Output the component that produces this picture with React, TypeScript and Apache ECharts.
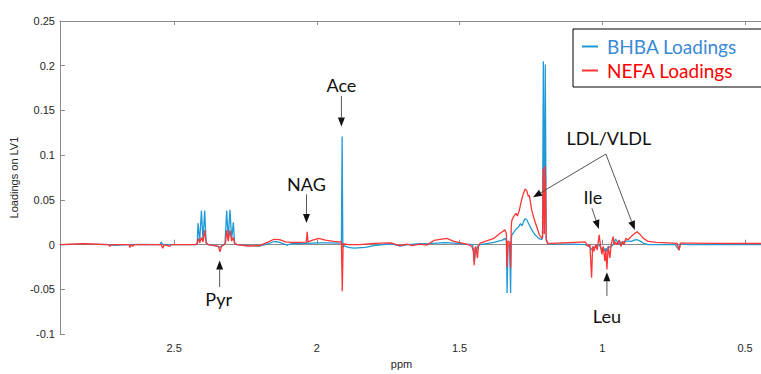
import React, { useEffect, useRef } from "react";
import * as echarts from "echarts";

// ---- data (ppm, loading) ----
const BHBA_LOADINGS: [number, number][] = [
  [2.9, 0.0], [2.8, 0.0005], [2.73, 0.0], [2.71, -0.0008], [2.66, 0.0], [2.62, 0.0004],
  [2.55, 0.0], [2.545, 0.003], [2.54, 0.0], [2.46, 0.0], [2.425, 0.0], [2.419, 0.002],
  [2.4164, 0.024], [2.4105, 0.004], [2.4045, 0.038], [2.399, 0.005], [2.393, 0.038],
  [2.388, 0.002], [2.38, 0.0], [2.355, -0.001], [2.3395, -0.003], [2.33, -0.0005],
  [2.322, 0.001], [2.316, 0.038], [2.3105, 0.006], [2.3045, 0.039], [2.2985, 0.006],
  [2.2927, 0.025], [2.288, 0.002], [2.28, 0.0], [2.24, -0.001], [2.2, -0.0015],
  [2.17, 0.001], [2.15, 0.0035], [2.13, 0.0025], [2.105, -0.0005], [2.09, 0.001],
  [2.06, 0.0012], [2.036, 0.0015], [2.034, 0.003], [2.031, 0.0015], [2.0, 0.002],
  [1.96, 0.002], [1.925, 0.0018], [1.914, 0.002], [1.9115, 0.121], [1.909, -0.003],
  [1.905, -0.001], [1.89, -0.003], [1.87, -0.004], [1.83, -0.003], [1.8, -0.001],
  [1.74, 0.001], [1.71, -0.0015], [1.68, 0.0], [1.64, 0.001], [1.6, 0.0015],
  [1.55, 0.0022], [1.52, 0.0018], [1.475, 0.0005], [1.455, 0.0], [1.451, -0.006],
  [1.4475, -0.019], [1.444, -0.004], [1.44, -0.006], [1.435, -0.001], [1.428, 0.0],
  [1.38, 0.0025], [1.35, 0.005], [1.34, 0.007], [1.336, 0.004], [1.3336, -0.054],
  [1.3305, -0.002], [1.3245, -0.001], [1.3213, -0.054], [1.319, 0.006], [1.3171, 0.0107],
  [1.3042, 0.0165], [1.2927, 0.02], [1.2867, 0.0235], [1.2808, 0.021], [1.2752, 0.0266],
  [1.2706, 0.029], [1.2648, 0.0278], [1.2557, 0.022], [1.2473, 0.0165], [1.2357, 0.011],
  [1.2241, 0.0073], [1.2122, 0.0055], [1.2095, 0.008], [1.2066, 0.205], [1.2031, 0.012],
  [1.1997, 0.2015], [1.1965, 0.006], [1.192, 0.0015], [1.18, 0.0008], [1.1, 0.0005],
  [1.06, 0.0], [1.045, -0.002], [1.0374, -0.006], [1.032, -0.002], [1.0294, -0.004],
  [1.02, -0.001], [1.0108, 0.0], [1.0014, -0.006], [0.996, -0.003], [0.9909, -0.0075],
  [0.987, -0.004], [0.9839, -0.008], [0.979, -0.002], [0.9734, -0.003], [0.9619, 0.0],
  [0.9535, 0.0062], [0.9479, 0.0036], [0.9409, 0.0], [0.935, 0.003], [0.929, 0.0003],
  [0.9234, 0.0035], [0.9175, 0.004], [0.9094, 0.004], [0.8976, 0.0037], [0.886, 0.0053],
  [0.878, 0.0055], [0.8685, 0.0042], [0.857, 0.0018], [0.8395, 0.0], [0.81, 0.0],
  [0.745, 0.0], [0.7311, -0.006], [0.7262, 0.001], [0.7, 0.0], [0.6, 0.0], [0.444, 0.0],
];

const NEFA_LOADINGS: [number, number][] = [
  [2.9, 0.0], [2.82, 0.001], [2.73, 0.0], [2.725, -0.002], [2.72, 0.0], [2.658, 0.0],
  [2.655, -0.003], [2.65, 0.0], [2.645, -0.002], [2.64, 0.0], [2.545, 0.0], [2.54, -0.004],
  [2.535, 0.0], [2.515, -0.002], [2.51, 0.0], [2.425, 0.0], [2.419, 0.001], [2.4164, 0.007],
  [2.4105, 0.002], [2.4045, 0.008], [2.399, 0.003], [2.393, 0.016], [2.388, 0.002],
  [2.38, 0.0], [2.36, -0.001], [2.345, -0.002], [2.3395, -0.008], [2.334, -0.002],
  [2.325, 0.0], [2.32, 0.002], [2.316, 0.016], [2.3105, 0.004], [2.3045, 0.016],
  [2.2985, 0.004], [2.2927, 0.008], [2.288, 0.001], [2.28, 0.0], [2.24, -0.0015],
  [2.2, -0.001], [2.17, 0.003], [2.15, 0.006], [2.13, 0.0055], [2.11, 0.003], [2.09, 0.0025],
  [2.06, 0.0025], [2.037, 0.0028], [2.034, 0.0143], [2.031, 0.003], [2.015, 0.005],
  [1.993, 0.007], [1.97, 0.005], [1.94, 0.0036], [1.925, 0.003], [1.914, 0.003],
  [1.911, -0.052], [1.908, 0.001], [1.89, 0.0], [1.85, 0.0], [1.8, 0.0015], [1.74, 0.002],
  [1.71, -0.001], [1.685, 0.0005], [1.665, -0.001], [1.64, 0.0005], [1.615, -0.0005],
  [1.59, 0.0047], [1.545, 0.007], [1.52, 0.0036], [1.475, 0.0007], [1.457, -0.002],
  [1.4515, -0.008], [1.449, -0.023], [1.446, -0.004], [1.443, -0.002], [1.4374, -0.015],
  [1.434, -0.002], [1.428, 0.0018], [1.38, 0.007], [1.358, 0.0127], [1.3406, 0.0165],
  [1.336, 0.012], [1.3336, -0.025], [1.3305, 0.004], [1.3245, 0.003], [1.3213, -0.026],
  [1.319, 0.02], [1.3171, 0.027], [1.3115, 0.031], [1.302, 0.035], [1.2975, 0.032],
  [1.2906, 0.0385], [1.2822, 0.051], [1.2766, 0.0567], [1.2706, 0.0623], [1.2648, 0.0604],
  [1.2592, 0.054], [1.2557, 0.055], [1.2473, 0.0385], [1.2392, 0.029], [1.2297, 0.02],
  [1.2206, 0.011], [1.2122, 0.0073], [1.2095, 0.008], [1.2066, 0.085], [1.2031, 0.012],
  [1.1997, 0.088], [1.1965, 0.006], [1.192, 0.0015], [1.18, 0.0015], [1.1, 0.0025],
  [1.06, 0.003], [1.0493, -0.002], [1.0434, 0.0], [1.0374, -0.037], [1.034, -0.002],
  [1.0294, -0.0075], [1.0234, 0.0], [1.0178, -0.006], [1.0108, 0.011], [1.0061, -0.002],
  [1.0014, -0.011], [0.9968, -0.002], [0.9909, -0.0185], [0.9874, -0.006], [0.9839, -0.0277],
  [0.9794, -0.002], [0.9734, -0.0148], [0.9689, 0.0], [0.9619, 0.009], [0.9584, 0.0],
  [0.9535, 0.003], [0.9479, 0.0], [0.9409, 0.0053], [0.935, -0.002], [0.929, 0.0036],
  [0.9234, 0.0002], [0.9175, 0.007], [0.9094, 0.0055], [0.8976, 0.0095], [0.886, 0.0128],
  [0.878, 0.0145], [0.8685, 0.0117], [0.857, 0.0073], [0.8395, 0.0036], [0.81, 0.0025],
  [0.752, 0.0018], [0.738, 0.0015], [0.7311, -0.006], [0.7262, 0.0018], [0.7, 0.0018],
  [0.6, 0.0015], [0.444, 0.0013],
];

const SERIES_NAMES = ["BHBA Loadings", "NEFA Loadings"];

// annotation labels, in data coordinates (ppm, loading)
const ANNOTATION_TEXTS: { label: string; at: [number, number] }[] = [
  { label: "Ace", at: [1.914, 0.1784] },
  { label: "NAG", at: [2.0364, 0.0683] },
  { label: "Pyr", at: [2.344, -0.0606] },
  { label: "Leu", at: [0.9839, -0.0793] },
  { label: "Ile", at: [1.0329, 0.0529] },
  { label: "LDL/VLDL", at: [0.977, 0.1189] },
];
const ANNOTATION_ARROWS: { from: [number, number]; to: [number, number] }[] = [
  { from: [1.914, 0.1663], to: [1.914, 0.1322] },
  { from: [2.0364, 0.0562], to: [2.0364, 0.0242] },
  { from: [2.3406, -0.0474], to: [2.3406, -0.0176] },
  { from: [0.9839, -0.0573], to: [0.9839, -0.0308] },
  { from: [1.0364, 0.0407], to: [1.0119, 0.0176] },
  { from: [0.9874, 0.1013], to: [1.2427, 0.0529] },
  { from: [0.9874, 0.1013], to: [0.886, 0.0165] },
];

const BLUE = "#1f9ad6";
const RED = "#ff3535";
const AXIS_GRAY = "#8a8a8a";
const LABEL_FONT = "'Liberation Sans', Arial, sans-serif";
const ANNOT_FONT = "Lato, 'Open Sans', sans-serif";

export default function App() {
  const ref = useRef<HTMLDivElement>(null);
  useEffect(() => {
    if (!ref.current) return;
    const chart = echarts.init(ref.current, undefined, { renderer: "svg" });
    const xMin = 0.444;
    const xMax = 2.9;
    const labelFmt = (v: number) =>
      Math.abs(v * 2 - Math.round(v * 2)) < 1e-6 ? String(Math.round(v * 10) / 10) : "";
    chart.setOption({
      animation: false,
      backgroundColor: "#ffffff",
      grid: { left: 59, right: 0, top: 21, bottom: 35, containLabel: false },
      xAxis: [
        {
          type: "value",
          min: xMin,
          max: xMax,
          inverse: true,
          splitNumber: 5,
          position: "bottom",
          name: "ppm",
          nameLocation: "middle",
          nameGap: 21,
          nameTextStyle: { fontFamily: LABEL_FONT, fontSize: 11, color: "#262626", padding: [0, 18, 0, 0] },
          axisLine: { show: true, lineStyle: { color: AXIS_GRAY, width: 1 } },
          axisTick: { show: true, inside: true, length: 5, lineStyle: { color: AXIS_GRAY } },
          axisLabel: {
            margin: 8,
            fontFamily: LABEL_FONT,
            fontSize: 11,
            color: "#262626",
            showMinLabel: false,
            showMaxLabel: false,
            formatter: labelFmt,
          },
          splitLine: { show: false },
        },
        {
          type: "value",
          min: xMin,
          max: xMax,
          inverse: true,
          splitNumber: 5,
          position: "top",
          axisLine: { show: true, lineStyle: { color: AXIS_GRAY, width: 1 } },
          axisTick: { show: true, inside: true, length: 4, lineStyle: { color: AXIS_GRAY } },
          axisLabel: { show: false },
          splitLine: { show: false },
        },
      ],
      yAxis: {
        type: "value",
        min: -0.1,
        max: 0.25,
        interval: 0.05,
        name: "Loadings on LV1",
        nameLocation: "middle",
        nameGap: 35,
        nameTextStyle: { fontFamily: LABEL_FONT, fontSize: 11, color: "#262626" },
        axisLine: { show: true, lineStyle: { color: AXIS_GRAY, width: 1 } },
        axisTick: { show: true, inside: true, length: 5, lineStyle: { color: AXIS_GRAY } },
        axisLabel: {
          margin: 5,
          fontFamily: LABEL_FONT,
          fontSize: 11,
          color: "#262626",
          formatter: (v: number) => String(Math.round(v * 100) / 100),
        },
        splitLine: { show: false },
      },
      legend: {
        orient: "vertical",
        left: 573,
        top: 29,
        padding: [8, 60, 7, 9],
        itemGap: 5,
        itemWidth: 16,
        itemHeight: 2,
        icon: "rect",
        borderColor: "#000",
        borderWidth: 1,
        backgroundColor: "#fff",
        textStyle: { fontFamily: ANNOT_FONT, fontSize: 19, padding: [0, 0, 0, 4] },
        data: [
          { name: SERIES_NAMES[0], textStyle: { color: "#3a8ad6" } },
          { name: SERIES_NAMES[1], textStyle: { color: "#ff0000" } },
        ],
      },
      series: [
        {
          name: SERIES_NAMES[0],
          type: "line",
          xAxisIndex: 0,
          data: BHBA_LOADINGS,
          showSymbol: false,
          symbol: "none",
          color: BLUE,
          lineStyle: { color: BLUE, width: 1.3 },
        },
        {
          name: SERIES_NAMES[1],
          type: "line",
          xAxisIndex: 0,
          data: NEFA_LOADINGS,
          showSymbol: false,
          symbol: "none",
          color: RED,
          lineStyle: { color: RED, width: 1.3 },
        },
      ],
    });

    const px = (p: [number, number]) =>
      chart.convertToPixel({ xAxisIndex: 0, yAxisIndex: 0 }, p) as number[];
    const graphics: any[] = [];
    ANNOTATION_TEXTS.forEach((t) => {
      const [x, y] = px(t.at);
      graphics.push({
        type: "text",
        x,
        y,
        style: {
          text: t.label,
          fontFamily: ANNOT_FONT,
          fontSize: 18,
          fill: "#111",
          align: "center",
          verticalAlign: "middle",
        },
        z: 100,
      });
    });
    ANNOTATION_ARROWS.forEach((a) => {
      const [x1, y1] = px(a.from);
      const [x2, y2] = px(a.to);
      const dx = x2 - x1;
      const dy = y2 - y1;
      const len = Math.sqrt(dx * dx + dy * dy);
      const ux = dx / len;
      const uy = dy / len;
      const head = 9;
      const hw = 3.5;
      const bx = x2 - ux * head;
      const by = y2 - uy * head;
      graphics.push({
        type: "line",
        shape: { x1, y1, x2: bx, y2: by },
        style: { stroke: "#555", lineWidth: 1 },
        z: 100,
      });
      graphics.push({
        type: "polygon",
        shape: {
          points: [
            [x2, y2],
            [bx - uy * hw, by + ux * hw],
            [bx + uy * hw, by - ux * hw],
          ],
        },
        style: { fill: "#111" },
        z: 100,
      });
    });
    chart.setOption({ graphic: graphics });

    return () => chart.dispose();
  }, []);
  return (
    <div
      ref={ref}
      style={{ position: "fixed", left: 0, top: 0, width: 761, height: 374, background: "#fff" }}
    />
  );
}
